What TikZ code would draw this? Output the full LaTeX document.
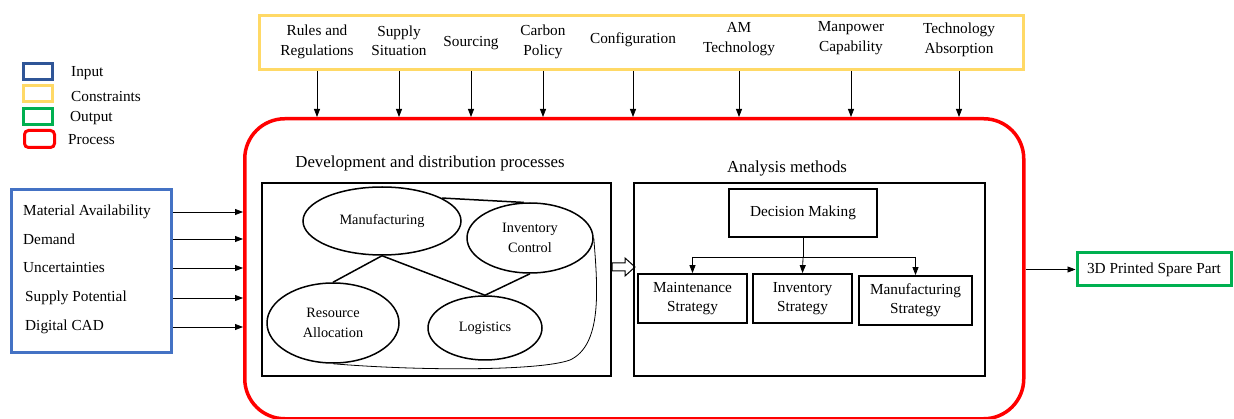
\documentclass[tikz,border=0pt]{standalone}
\usepackage{fontspec}
\setmainfont{Liberation Serif}
\usetikzlibrary{shapes.geometric,arrows.meta}
\definecolor{inblue}{HTML}{4472C4}
\definecolor{legblue}{HTML}{2F5597}
\definecolor{conyel}{HTML}{FFD966}
\definecolor{outgreen}{HTML}{00B050}
\definecolor{procred}{HTML}{FF0000}
\begin{document}
\begin{tikzpicture}[x=1pt,y=-1pt,
  txt/.style={font=\fontsize{15.3}{19.5}\selectfont, align=center, inner sep=0pt},
  head/.style={font=\fontsize{16.8}{20}\selectfont, inner sep=0pt},
  etxt/.style={font=\fontsize{14.3}{19.5}\selectfont, align=center},
  arr/.style={-{Triangle[length=8pt,width=6pt]}, line width=0.8pt},
  boxr/.style={draw, line width=2pt, inner sep=0pt, anchor=north west},
  ell/.style={ellipse, draw, line width=1.5pt, inner sep=0pt, etxt},
  sbox/.style={draw, line width=1.8pt, inner sep=0pt, txt},
  legbox/.style={draw, line width=3pt, minimum width=29pt, minimum height=16pt, inner sep=0pt, anchor=north west}
]
\useasboundingbox (0,0) rectangle (1234,419);

% legend
\node[legbox, draw=legblue] (lg1) at (22,62) {};
\node[legbox, draw=conyel] (lg2) at (22,84) {};
\node[legbox, draw=outgreen] (lg3) at (22,107) {};
\node[legbox, draw=procred, rounded corners=4pt, minimum width=30pt, minimum height=17pt] (lg4) at (23,129) {};
\node[txt, anchor=west] (lt1) at (71,73) {Input};
\node[txt, anchor=west] (lt2) at (71,97) {Constraints};
\node[txt, anchor=west] (lt3) at (70,118) {Output};
\node[txt, anchor=west] (lt4) at (68,140) {Process};

% constraints
\node[draw=conyel, line width=3pt, minimum width=764pt, minimum height=54pt, inner sep=0pt, anchor=north west] (cons) at (258,14) {};
\node[txt] (c1) at (317,42) {Rules and\\Regulations};
\node[txt] (c2) at (399,41) {Supply\\Situation};
\node[txt] (c3) at (471,43) {Sourcing};
\node[txt] (c4) at (543,42) {Carbon\\Policy};
\node[txt] (c5) at (633,40) {Configuration};
\node[txt] (c6) at (739,39) {AM\\Technology};
\node[txt] (c7) at (851,38) {Manpower\\Capability};
\node[txt] (c8) at (959,40) {Technology\\Absorption};

% process
\node[draw=procred, line width=3.5pt, rounded corners=40pt, minimum width=779pt, minimum height=300pt, inner sep=0pt, anchor=north west] (proc) at (243,117) {};

\foreach \c in {c1,c2,c3,c4,c5,c6,c7,c8}
  \draw[arr] (\c |- cons.south) -- (\c |- proc.north);

% input
\node[draw=inblue, line width=3pt, minimum width=160pt, minimum height=163pt, inner sep=0pt, anchor=north west] (inp) at (10,188) {};
\node[txt, anchor=west] (i1) at (23,212) {Material Availability};
\node[txt, anchor=west] (i2) at (23,239) {Demand};
\node[txt, anchor=west] (i3) at (23,268) {Uncertainties};
\node[txt, anchor=west] (i4) at (25,298) {Supply Potential};
\node[txt, anchor=west] (i5) at (25,327) {Digital CAD};
\foreach \i in {i1,i2,i3,i4,i5}
  \draw[arr] (inp.east |- \i) -- (proc.west |- \i);

% left inner
\node[head] (h1) at (430,163) {Development and distribution processes};
\node[boxr, minimum width=349pt, minimum height=193pt] (lb) at (261,182) {};
\node[ell, minimum width=158pt, minimum height=68pt] (man) at (382,221) {Manufacturing};
\node[ell, minimum width=126pt, minimum height=70pt] (inv) at (530,238) {Inventory\\Control};
\node[ell, minimum width=132pt, minimum height=80pt] (res) at (333,323) {Resource\\Allocation};
\node[ell, minimum width=114pt, minimum height=64pt] (log) at (485,328) {Logistics};
\draw[line width=1.5pt] (man.south) -- (res.north);
\draw[line width=1.5pt] (man.south) -- (log.north);
\draw[line width=1.5pt] (inv.south) -- (log.north);
\draw[line width=1.5pt] (man.21) -- (inv.100);
\draw[line width=0.8pt] (inv.east) .. controls (598,290) and (602,345) .. (570,360)
  .. controls (540,371) and (420,371) .. (res.south);

% hollow arrow
\coordinate (ha) at (lb.east |- 0,267);
\draw[line width=1pt, fill=white] (ha) ++(0,-4) -- ++(13,0) -- ++(0,-5) -- ++(10,9) -- ++(-10,9) -- ++(0,-5) -- ++(-13,0) -- cycle;

% right inner
\node[head] (h2) at (787,168) {Analysis methods};
\node[boxr, minimum width=351pt, minimum height=193pt] (rb) at (633,182) {};
\node[sbox, minimum width=148pt, minimum height=48pt] (dm) at (803,213) {Decision Making};
\node[sbox, minimum width=109pt, minimum height=49pt] (ms) at (692.5,298.5) {Maintenance\\Strategy};
\node[sbox, minimum width=99pt, minimum height=49pt] (is) at (802.5,298.5) {Inventory\\Strategy};
\node[sbox, minimum width=113pt, minimum height=49pt] (mfs) at (915.5,300.5) {Manufacturing\\Strategy};
\coordinate (jn) at (dm.south |- 0,257);
\draw[line width=0.8pt] (dm.south) -- (jn);
\draw[line width=0.8pt] (jn -| ms.north) -- (jn -| mfs.north);
\draw[arr] (jn -| ms.north) -- (ms.north);
\draw[arr] (jn) -- (is.north);
\draw[arr] (jn -| mfs.north) -- (mfs.north);

% output
\node[draw=outgreen, line width=3pt, minimum width=154pt, minimum height=33pt, inner sep=0pt, txt] (out) at (1154,269.5) {3D Printed Spare Part};
\draw[arr] (proc.east |- out) -- (out.west);
\end{tikzpicture}
\end{document}
